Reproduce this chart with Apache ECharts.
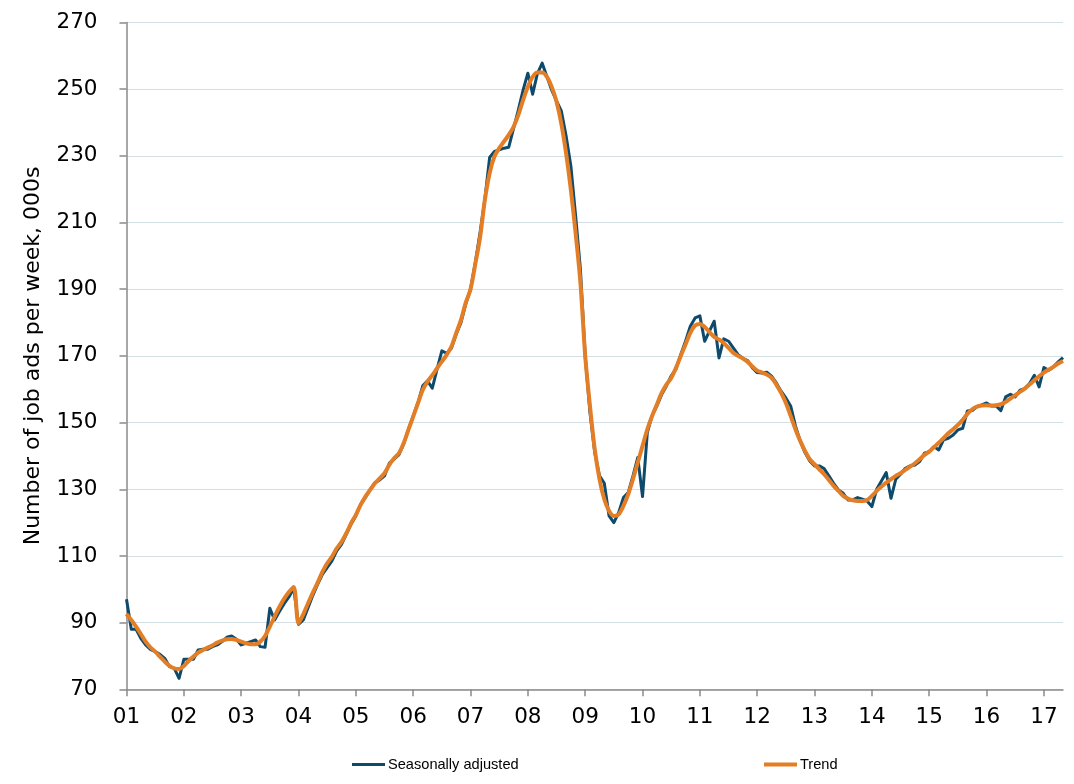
<!DOCTYPE html>
<html>
<head>
<meta charset="utf-8">
<script src="https://cdn.jsdelivr.net/npm/echarts@6/dist/echarts.min.js"></script>
<style>
html,body{margin:0;padding:0;background:#fff;}
#chart{width:1074px;height:784px;}
</style>
</head>
<body>
<div id="chart"></div>
<script>
// Year tick labels (one per January)
var yearLabels = ['01','02','03','04','05','06','07','08','09','10','11','12','13','14','15','16','17'];
var monthsInLastYear = 5; // Jan–May 2017

// Seasonally adjusted, monthly, thousands of job ads per week (Jan 2001 – May 2017)
var seasonallyAdjusted = [
  97, 88, 88, 85.3, 83.3, 82, 81.3, 80.5, 79.3, 76.8, 76.3, 73.3,
  79, 79, 79, 81.8, 82, 82, 82.8, 83.3, 84.3, 85.6, 86, 85,
  83.3, 83.8, 84.3, 84.8, 82.8, 82.6, 94.3, 90.8, 93.3, 95.7, 97.7, 100.3,
  89.5, 90.8, 94.5, 98.2, 101.5, 104.5, 106.5, 108.5, 111.5, 113.5, 116.5, 119.5,
  122, 125.5, 127.5, 130, 132, 132.8, 134, 137.8, 139, 140.3, 143.5, 148,
  152, 156, 161, 162.5, 160.3, 166, 171.5, 170.8, 172.3, 176.5, 180, 185.5,
  190, 198, 207, 217, 229.5, 231.3, 231.8, 232.3, 232.6, 238.2, 243.7, 249.7,
  254.8, 248.5, 254.7, 257.8, 253.7, 249.7, 246.5, 243.5, 236, 227, 212, 196,
  170, 153, 141, 134, 131.8, 122, 120, 123, 127.5, 129, 134, 139.5,
  127.8, 147, 152, 155, 158.4, 161, 164, 166, 170.4, 174.4, 178.9, 181.4,
  182, 174.4, 177.4, 180.4, 169.4, 175.1, 174.4, 172.4, 170.4, 169.3, 168.6, 166.4,
  165, 164.9, 165.1, 163.9, 161.9, 159.4, 157.4, 155, 149, 144.5, 141, 138.5,
  137, 137, 136.2, 134, 131.8, 129.8, 128.8, 126.8, 126.8, 127.5, 127, 126.5,
  124.8, 130, 132.5, 135, 127.3, 133, 134.5, 136.3, 137, 137.3, 138.3, 140.8,
  141.3, 142.8, 141.8, 144.8, 145.3, 146.3, 147.8, 148.3, 153.5, 153.6, 154.8, 155.3,
  155.9, 155, 155, 153.6, 157.7, 158.5, 157.7, 159.7, 160.2, 161.7, 164.2, 160.7,
  166.5, 165.7, 166.7, 168.2, 169.5
];

// Trend, monthly
var trend = [
  92.6, 90.8, 88.8, 86.6, 84.3, 82.6, 81.3, 79.8, 78.3, 77, 76.3, 76.1,
  77, 78.5, 79.8, 81, 81.8, 82.5, 83.2, 84, 84.6, 85, 85.1, 84.8,
  84.3, 83.8, 83.5, 83.5, 84.3, 86, 88.8, 91.8, 94.7, 97.2, 99.2, 100.7,
  89.8, 92.5, 95.8, 99, 102, 105.2, 107.8, 109.8, 112.3, 114.2, 116.8, 119.8,
  122.3, 125.3, 127.8, 129.8, 131.8, 133.3, 134.8, 137.3, 139.3, 140.8, 143.8, 147.8,
  151.8, 155.8, 159.8, 162.3, 164.2, 166.3, 168.3, 170.3, 172.8, 176.8, 180.8, 186,
  190, 197.5, 205.5, 216.8, 224.8, 229.8, 232.3, 234.3, 236.3, 238.7, 242.2, 246.7,
  250.7, 253.7, 255, 255, 253.7, 250.7, 246.2, 239.7, 230.8, 219.8, 206.8, 192,
  170, 155, 142, 133, 127, 123.5, 122, 122.5, 125, 128.5, 133, 138,
  143, 148, 152, 155.4, 158.9, 161.4, 163.4, 166.4, 170, 173.4, 176.9, 179.1,
  179.6, 178.7, 177.1, 175.7, 174.9, 173.9, 172.4, 170.9, 170, 169.2, 168.2, 166.8,
  165.6, 165, 164.4, 163.4, 161.4, 158.9, 155.9, 152, 148, 144.5, 141.5, 139,
  137.5, 136, 134.5, 132.8, 131, 129.5, 128, 127.2, 126.7, 126.5, 126.5, 126.8,
  128, 129.5, 130.8, 132, 133, 134, 134.8, 135.8, 136.8, 137.8, 139, 140.3,
  141.3, 142.6, 144, 145.3, 146.8, 148, 149.3, 150.8, 152.6, 154, 154.8, 155.1,
  155.2, 155.1, 155.2, 155.5, 156.2, 157.2, 158.2, 159.2, 160.2, 161.4, 162.7, 163.9,
  165, 165.9, 166.7, 167.7, 168.5
];

var seriesNames = ['Seasonally adjusted', 'Trend'];
var yAxisTitle = 'Number of job ads per week, 000s';

// Build monthly categories from the year labels
var categories = [];
yearLabels.forEach(function (yy, i) {
  var n = (i === yearLabels.length - 1) ? monthsInLastYear : 12;
  for (var m = 1; m <= n; m++) categories.push(yy + '-' + (m < 10 ? '0' + m : m));
});

var axisGrey = '#8a8a8a';
var tickFont = 'DejaVu Sans';

var chart = echarts.init(document.getElementById('chart'), null, {renderer: 'canvas'});
chart.setOption({
  animation: false,
  backgroundColor: '#ffffff',
  grid: {left: 126.5, right: 11, top: 22.5, bottom: 94.7, containLabel: false},
  legend: [
    {
      data: [seriesNames[0]], left: 352, top: 757, icon: 'rect', padding: 0,
      itemWidth: 33, itemHeight: 3, itemGap: 0,
      textStyle: {fontFamily: 'Liberation Sans', fontSize: 14.6, color: '#000', padding: [0, 0, 0, -2]}
    },
    {
      data: [seriesNames[1]], left: 764, top: 757, icon: 'rect', padding: 0,
      itemWidth: 33, itemHeight: 4, itemGap: 0,
      textStyle: {fontFamily: 'Liberation Sans', fontSize: 14.6, color: '#000', padding: [0, 0, 0, -2]}
    }
  ],
  xAxis: {
    type: 'category',
    data: categories,
    boundaryGap: false,
    axisLine: {lineStyle: {color: axisGrey, width: 1.5}},
    axisTick: {
      show: true, length: 7, inside: false,
      interval: function (i) { return i % 12 === 0; },
      lineStyle: {color: axisGrey, width: 1.5}
    },
    axisLabel: {
      interval: function (i) { return i % 12 === 0; },
      formatter: function (v) { return v.split('-')[0]; },
      fontFamily: tickFont, fontSize: 21.5, color: '#000', margin: 17
    },
    splitLine: {show: false}
  },
  yAxis: {
    type: 'value',
    min: 70, max: 270, interval: 20,
    name: yAxisTitle,
    nameLocation: 'middle',
    nameGap: 82,
    nameTextStyle: {fontFamily: tickFont, fontSize: 22, color: '#000'},
    axisLine: {show: true, lineStyle: {color: axisGrey, width: 1.5}},
    axisTick: {show: true, length: 7, lineStyle: {color: axisGrey, width: 1.5}},
    axisLabel: {fontFamily: tickFont, fontSize: 21.5, color: '#000', margin: 29},
    splitLine: {show: true, lineStyle: {color: '#d3dee5', width: 1}}
  },
  series: [
    {
      name: seriesNames[0], type: 'line', data: seasonallyAdjusted,
      symbol: 'none', smooth: false,
      lineStyle: {color: '#0d4a6b', width: 3, join: 'round'},
      itemStyle: {color: '#0d4a6b'},
      z: 2
    },
    {
      name: seriesNames[1], type: 'line', data: trend,
      symbol: 'none', smooth: 0.3,
      lineStyle: {color: '#e37e26', width: 4, join: 'round'},
      itemStyle: {color: '#e37e26'},
      z: 3
    }
  ]
});
</script>
</body>
</html>
